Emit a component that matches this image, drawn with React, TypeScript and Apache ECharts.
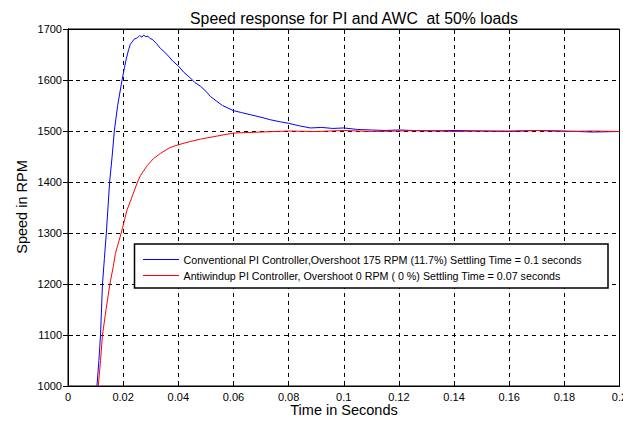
import React, { useEffect, useRef } from "react";
import * as echarts from "echarts";

const titleText = "Speed response for PI and AWC  at 50% loads";
const xAxisName = "Time in Seconds";
const yAxisName = "Speed in RPM";
const seriesNames = [
  "Conventional PI Controller,Overshoot 175 RPM (11.7%) Settling Time = 0.1 seconds",
  "Antiwindup PI Controller, Overshoot 0 RPM ( 0 %) Settling Time = 0.07 seconds",
];
const seriesColors = ["#0000ff", "#ff0000"];

const convTime = [
  0.0105, 0.0112, 0.0118, 0.0125, 0.0132, 0.0139, 0.0151, 0.016, 0.0168, 0.018,
  0.0196, 0.0205, 0.0212, 0.022, 0.0226, 0.024, 0.0252, 0.026, 0.0268, 0.0274,
  0.0282, 0.029, 0.0298, 0.0305, 0.032, 0.0335, 0.035, 0.0364, 0.038, 0.0401,
  0.042, 0.0444, 0.046, 0.048, 0.05, 0.0516, 0.054, 0.056, 0.058, 0.06,
  0.063, 0.0661, 0.07, 0.0734, 0.077, 0.08, 0.084, 0.0879, 0.092, 0.096,
  0.1, 0.105, 0.11, 0.115, 0.12, 0.13, 0.14, 0.15, 0.16, 0.17,
  0.18, 0.19, 0.2,
];
const convSpeed = [
  1000, 1050, 1100, 1200, 1250, 1300, 1400, 1450, 1500, 1550,
  1600, 1625, 1643, 1660, 1670, 1680, 1683, 1687, 1684, 1688,
  1685, 1686, 1681, 1680, 1672, 1662, 1655, 1647, 1637, 1627,
  1615, 1604, 1595, 1588, 1578, 1568, 1558, 1550, 1545, 1540,
  1536, 1532, 1527, 1522, 1518, 1515, 1510, 1506, 1507, 1505,
  1506, 1503, 1502, 1501, 1502, 1500, 1501, 1500, 1499, 1501,
  1500, 1498, 1499,
];

const awcTime = [
  0.011, 0.0118, 0.0125, 0.0138, 0.0152, 0.0164, 0.0172, 0.0193, 0.0214, 0.0233,
  0.0252, 0.0263, 0.0287, 0.031, 0.0335, 0.0368, 0.04, 0.044, 0.048, 0.054,
  0.06, 0.07, 0.08, 0.09, 0.1, 0.11, 0.12, 0.13, 0.14, 0.15,
  0.16, 0.17, 0.18, 0.19, 0.2,
];
const awcSpeed = [
  1000, 1050, 1100, 1150, 1200, 1234, 1260, 1300, 1345, 1372,
  1400, 1413, 1432, 1446, 1456, 1467, 1473, 1479, 1484, 1490,
  1496, 1498, 1500, 1499, 1501, 1499, 1500, 1501, 1499, 1500,
  1500, 1501, 1499, 1500, 1499,
];

const FONT = "'Liberation Sans', Arial, Helvetica, sans-serif";

export default function App() {
  const ref = useRef<HTMLDivElement>(null);
  useEffect(() => {
    if (!ref.current) return;
    const chart = echarts.init(ref.current, undefined, { renderer: "svg" });
    const pair = (t: number[], v: number[]) => t.map((x, i) => [x, v[i]]);
    const dash = { color: "#000", width: 1, type: [4, 4] as number[] };

    // legend box (drawn as graphics for exact MATLAB-like look)
    const lgX = 134.5;
    const lgY = 244;
    const lgW = 473.5;
    const lgH = 44;
    const rowY = [259.5, 275.5];
    const legendEls: any[] = [
      {
        type: "rect",
        z: 100,
        shape: { x: lgX, y: lgY, width: lgW, height: lgH },
        style: { fill: "#fff", stroke: "#000", lineWidth: 1.5 },
      },
    ];
    seriesNames.forEach((name, i) => {
      legendEls.push({
        type: "line",
        z: 101,
        shape: { x1: 143, y1: rowY[i], x2: 179, y2: rowY[i] },
        style: { stroke: seriesColors[i], lineWidth: 1 },
      });
      legendEls.push({
        type: "text",
        z: 101,
        x: 183.5,
        y: rowY[i],
        style: {
          text: name,
          fill: "#000",
          font: `10.7px ${FONT}`,
          textAlign: "left",
          textVerticalAlign: "middle",
        },
      });
    });

    chart.setOption({
      animation: false,
      backgroundColor: "#fff",
      textStyle: { fontFamily: FONT },
      grid: {
        left: 68,
        right: 3.5,
        top: 29,
        bottom: 37,
        show: true,
        borderColor: "#000",
        borderWidth: 1,
        backgroundColor: "transparent",
        containLabel: false,
        outerBoundsMode: "none",
      },
      graphic: [
        {
          type: "text",
          x: 354,
          y: 18,
          style: {
            text: titleText,
            fill: "#000",
            font: `15.8px ${FONT}`,
            textAlign: "center",
            textVerticalAlign: "middle",
          },
        },
        {
          type: "text",
          x: 344,
          y: 410,
          style: {
            text: xAxisName,
            fill: "#000",
            font: `14.5px ${FONT}`,
            textAlign: "center",
            textVerticalAlign: "middle",
          },
        },
        {
          type: "text",
          x: 22,
          y: 207,
          rotation: Math.PI / 2,
          style: {
            text: yAxisName,
            fill: "#000",
            font: `14.5px ${FONT}`,
            textAlign: "center",
            textVerticalAlign: "middle",
          },
        },
        ...legendEls,
      ],
      xAxis: [
        {
          type: "value",
          min: 0,
          max: 0.2,
          interval: 0.02,
          axisLine: { show: true, lineStyle: { color: "#000", width: 1 } },
          axisTick: { show: true, inside: true, length: 5, lineStyle: { color: "#000" } },
          axisLabel: { color: "#000", fontSize: 11, margin: 5, fontFamily: FONT },
          splitLine: { show: true, lineStyle: dash },
        },
        {
          type: "value",
          position: "top",
          min: 0,
          max: 0.2,
          interval: 0.02,
          axisLine: { show: true, lineStyle: { color: "#000", width: 1 } },
          axisTick: { show: true, inside: true, length: 5, lineStyle: { color: "#000" } },
          axisLabel: { show: false },
          splitLine: { show: false },
        },
      ],
      yAxis: [
        {
          type: "value",
          min: 1000,
          max: 1700,
          interval: 100,
          axisLine: { show: true, lineStyle: { color: "#000", width: 1 } },
          axisTick: { show: true, inside: true, length: 5, lineStyle: { color: "#000" } },
          axisLabel: {
            color: "#000",
            fontSize: 11,
            margin: 6,
            fontFamily: FONT,
            formatter: (v: number) => String(v),
          },
          splitLine: { show: true, lineStyle: dash },
        },
        {
          type: "value",
          position: "right",
          min: 1000,
          max: 1700,
          interval: 100,
          axisLine: { show: true, lineStyle: { color: "#000", width: 1 } },
          axisTick: { show: true, inside: true, length: 5, lineStyle: { color: "#000" } },
          axisLabel: { show: false },
          splitLine: { show: false },
        },
      ],
      series: [
        {
          name: seriesNames[0],
          type: "line",
          xAxisIndex: 0,
          yAxisIndex: 0,
          data: pair(convTime, convSpeed),
          symbol: "none",
          color: seriesColors[0],
          lineStyle: { color: seriesColors[0], width: 1 },
          clip: true,
        },
        {
          name: seriesNames[1],
          type: "line",
          xAxisIndex: 0,
          yAxisIndex: 0,
          data: pair(awcTime, awcSpeed),
          symbol: "none",
          color: seriesColors[1],
          lineStyle: { color: seriesColors[1], width: 1 },
          clip: true,
        },
      ],
    });
    return () => chart.dispose();
  }, []);
  return (
    <div
      ref={ref}
      style={{ position: "fixed", left: 0, top: 0, width: 623, height: 423 }}
    />
  );
}
